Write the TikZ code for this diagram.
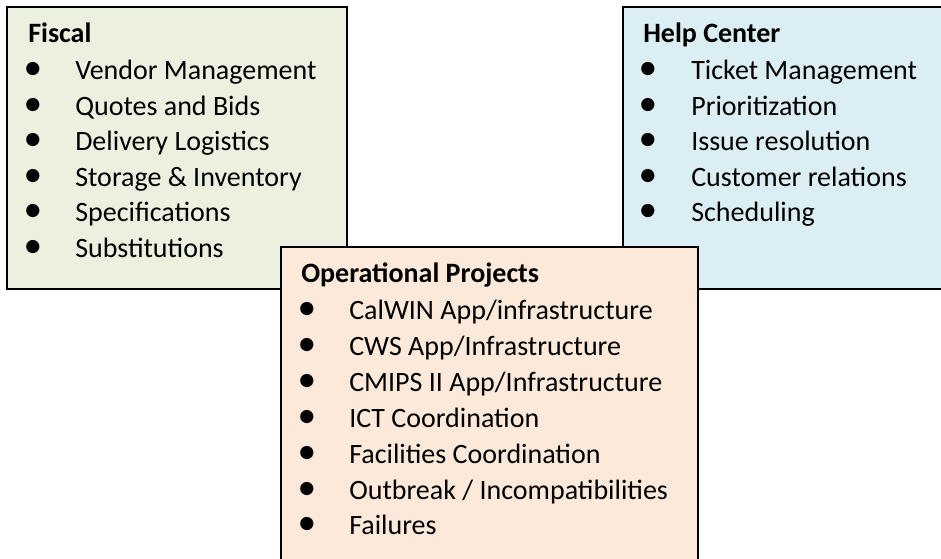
\documentclass[tikz,border=0pt]{standalone}
\usepackage{fontspec}
\setmainfont{Carlito}
\usetikzlibrary{fit}
\definecolor{fiscalfill}{HTML}{EBF1DE}
\definecolor{helpfill}{HTML}{DBEEF4}
\definecolor{opsfill}{HTML}{FDE9D9}
\tikzset{
  panel/.style={draw=black, line width=1.4pt, inner sep=0pt, outer sep=0pt},
  paneltitle/.style={anchor=base west, inner sep=0pt, font=\fontsize{21}{25}\selectfont\bfseries},
  item/.style={anchor=base west, inner sep=0pt, font=\fontsize{21}{25}\selectfont},
  bul/.style={anchor=base, inner sep=0pt, font=\fontsize{28}{30}\selectfont},
}
\begin{document}
\begin{tikzpicture}[x=0.75pt,y=-0.75pt]
\clip (0,0) rectangle (941,559);
\fill[white] (0,0) rectangle (941,559);
% Fiscal
\coordinate (f1) at (7,7); \coordinate (f2) at (347,289);
\node[panel, fill=fiscalfill, fit=(f1)(f2)] (fiscal) {};
\node[paneltitle] (fiscalt) at (28,43) {Fiscal};
\foreach \t [count=\i] in {Vendor Management, Quotes and Bids, Delivery Logistics, Storage \& Inventory, Specifications, Substitutions}{
  \node[item] (fi\i) at (75,{80+(\i-1)*35.5}) {\t};
  \node[bul] (fb\i) at (33,{80+(\i-1)*35.5}) {•};
}
% Help Center
\coordinate (h1) at (623,7); \coordinate (h2) at (960,289);
\node[panel, fill=helpfill, fit=(h1)(h2)] (help) {};
\node[paneltitle] (helpt) at (643,43) {Help Center};
\foreach \t [count=\i] in {Ticket Management, Prioritization, Issue resolution, Customer relations, Scheduling}{
  \node[item] (hi\i) at (691,{80+(\i-1)*35.5}) {\t};
  \node[bul] (hb\i) at (648,{80+(\i-1)*35.5}) {•};
}
% Operational Projects
\coordinate (o1) at (281,247); \coordinate (o2) at (698,580);
\node[panel, fill=opsfill, fit=(o1)(o2)] (ops) {};
\node[paneltitle] (opst) at (301,283) {Operational Projects};
\foreach \t [count=\i] in {CalWIN App/infrastructure, CWS App/Infrastructure, CMIPS II App/Infrastructure, ICT Coordination, Facilities Coordination, Outbreak / Incompatibilities, Failures}{
  \node[item] (oi\i) at (349,{320+(\i-1)*35.8}) {\t};
  \node[bul] (ob\i) at (307,{320+(\i-1)*35.8}) {•};
}
\end{tikzpicture}
\end{document}
